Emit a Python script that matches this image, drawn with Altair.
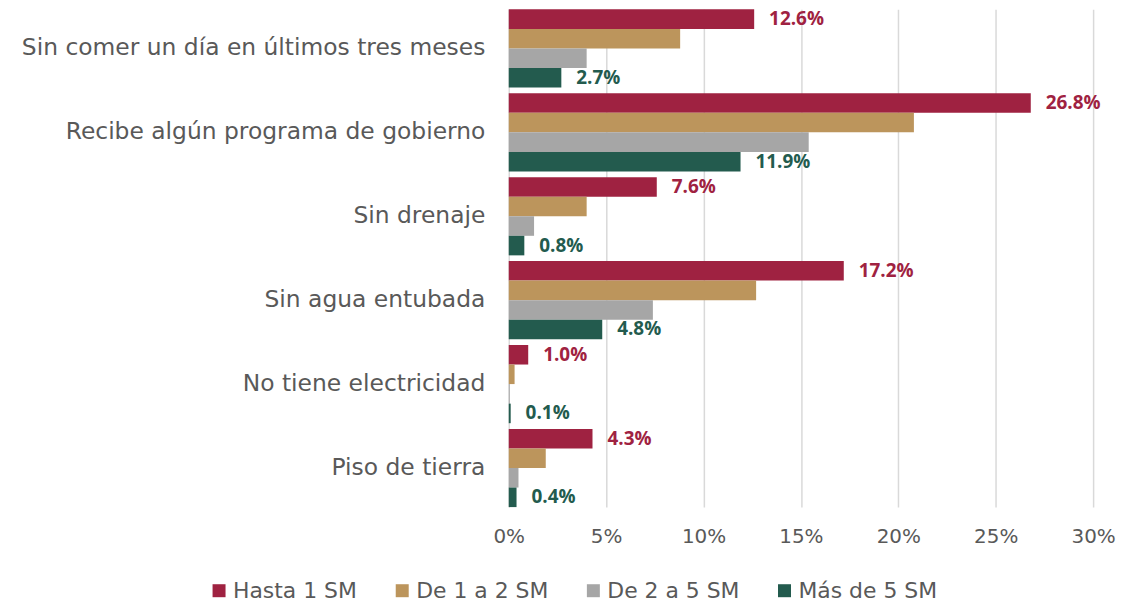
import altair as alt
import pandas as pd

categories = [
    "Sin comer un día en últimos tres meses",
    "Recibe algún programa de gobierno",
    "Sin drenaje\u00a0",
    "Sin agua entubada",
    "No tiene electricidad",
    "Piso de tierra",
]
series = ["Hasta 1 SM", "De 1 a 2 SM", "De 2 a 5 SM", "Más de 5 SM"]
hasta_1 = [12.6, 26.8, 7.6, 17.2, 1.0, 4.3]
de_1_a_2 = [8.8, 20.8, 4.0, 12.7, 0.3, 1.9]
de_2_a_5 = [4.0, 15.4, 1.3, 7.4, 0.05, 0.5]
mas_de_5 = [2.7, 11.9, 0.8, 4.8, 0.1, 0.4]
colors = ["#9F2241", "#BC955C", "#A6A6A6", "#235B4E"]
labeled = ["Hasta 1 SM", "Más de 5 SM"]
x_ticks = [0, 5, 10, 15, 20, 25, 30]

rows = []
for s, vals in zip(series, [hasta_1, de_1_a_2, de_2_a_5, mas_de_5]):
    for c, v in zip(categories, vals):
        rows.append({"categoria": c, "serie": s, "valor": v})
df = pd.DataFrame(rows)

FONT = "DejaVu Sans"
BOLD_FONT = "Open Sans"
GRAY = "#595959"

base = alt.Chart(df).encode(
    y=alt.Y(
        "categoria:N",
        sort=categories,
        title=None,
        scale=alt.Scale(domain=categories, paddingInner=0.068, paddingOuter=0),
        axis=alt.Axis(
            labelFont=FONT,
            labelFontSize=23.5,
            labelColor=GRAY,
            ticks=False,
            domain=False,
            labelPadding=24,
            labelLimit=600,
            minExtent=503,
            maxExtent=503,
        ),
    ),
    yOffset=alt.YOffset(
        "serie:N",
        sort=series,
        scale=alt.Scale(domain=series, paddingInner=0, paddingOuter=0),
    ),
    x=alt.X(
        "valor:Q",
        title=None,
        scale=alt.Scale(domain=[0, 30], nice=False),
        axis=alt.Axis(
            values=x_ticks,
            labelExpr="datum.value + '%'",
            labelFont=FONT,
            labelFontSize=20,
            labelColor=GRAY,
            labelFlush=False,
            ticks=False,
            domain=False,
            labelPadding=20,
            grid=True,
            gridColor="#D9D9D9",
            gridWidth=1.5,
        ),
    ),
    color=alt.Color(
        "serie:N",
        sort=series,
        scale=alt.Scale(domain=series, range=colors),
        legend=alt.Legend(
            title=None,
            orient="none",
            legendX=-302,
            legendY=573,
            direction="horizontal",
            symbolType="square",
            symbolSize=170,
            symbolStrokeWidth=0,
            labelFont=FONT,
            labelFontSize=22,
            labelColor=GRAY,
            labelOffset=3,
            columnPadding=34,
        ),
    ),
)

bars = base.mark_bar()

text = (
    base.transform_filter(alt.FieldOneOfPredicate(field="serie", oneOf=labeled))
    .transform_calculate(label="format(datum.valor, '.1f') + '%'")
    .mark_text(align="left", baseline="middle", dx=15, font=BOLD_FONT, fontWeight="bold", fontSize=19)
    .encode(text="label:N")
)

chart = (
    alt.layer(bars, text)
    .properties(width=587, height=500, padding=0)
    .configure_view(stroke=None)
)

chart.save("out.html", embed_options={"renderer": "svg", "actions": False})
